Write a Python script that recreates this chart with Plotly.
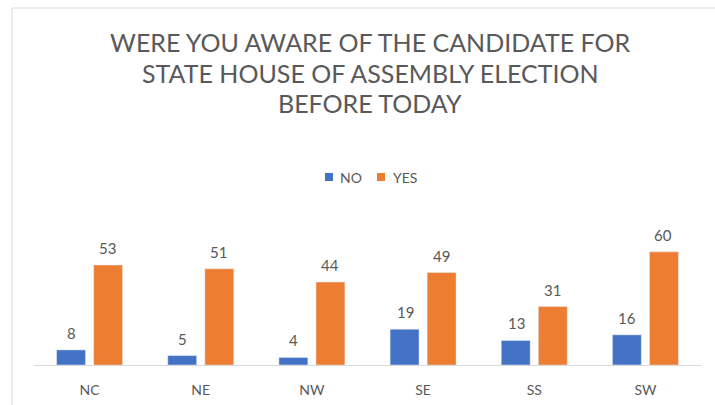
import plotly.graph_objects as go

# Survey responses by geopolitical zone
zones = ["NC", "NE", "NW", "SE", "SS", "SW"]
no_counts = [8, 5, 4, 19, 13, 16]
yes_counts = [53, 51, 44, 49, 31, 60]
series_names = ["NO", "YES"]

title_lines = [
    "WERE YOU AWARE OF THE CANDIDATE FOR",
    "STATE HOUSE OF ASSEMBLY ELECTION",
    "BEFORE TODAY",
]

BLUE = "#4472C4"
ORANGE = "#ED7D31"
GREY_TEXT = "#595959"
FONT = "Lato"

W, H = 715, 405
ML, MR, MT, MB = 34, 14, 233, 40
PW = W - ML - MR
PH = H - MT - MB


def px_x(x):
    return (x - ML) / PW


def px_y(y):
    return (H - MB - y) / PH


fig = go.Figure()
fig.add_trace(go.Bar(name=series_names[0], x=zones, y=no_counts, marker_color=BLUE))
fig.add_trace(go.Bar(name=series_names[1], x=zones, y=yes_counts, marker_color=ORANGE))

annotations = []
shapes = []
# value labels above each bar
for zone, n, y in zip(zones, no_counts, yes_counts):
    for val, shift in ((n, -18), (y, 18)):
        annotations.append(dict(
            x=zone, y=val, xref="x", yref="y", text=str(val), showarrow=False,
            xshift=shift, yshift=17, yanchor="middle",
            font=dict(family=FONT, size=15, color=GREY_TEXT),
        ))

# three-line title
for line, ypix in zip(title_lines, [42, 73, 103]):
    annotations.append(dict(
        x=px_x(370), y=px_y(ypix), xref="paper", yref="paper", text=line,
        showarrow=False, xanchor="center", yanchor="middle",
        font=dict(family=FONT, size=25, color=GREY_TEXT),
    ))

# compact legend: coloured key squares followed by series names
for name, color, sq_x, txt_x in zip(series_names, [BLUE, ORANGE], [325, 377], [338, 391]):
    shapes.append(dict(
        type="rect", xref="paper", yref="paper",
        x0=px_x(sq_x), x1=px_x(sq_x + 8), y0=px_y(181), y1=px_y(173),
        fillcolor=color, line=dict(width=0),
    ))
    annotations.append(dict(
        x=px_x(txt_x), y=px_y(177), xref="paper", yref="paper", text=name,
        showarrow=False, xanchor="left", yanchor="middle",
        font=dict(family=FONT, size=14, color=GREY_TEXT),
    ))

# chart frame
shapes.append(dict(
    type="rect", xref="paper", yref="paper",
    x0=px_x(12), x1=px_x(720), y0=px_y(8), y1=px_y(420),
    line=dict(color="#D9D9D9", width=1), fillcolor="rgba(0,0,0,0)", layer="below",
))

fig.update_layout(
    width=W, height=H,
    margin=dict(l=ML, r=MR, t=MT, b=MB, autoexpand=False),
    paper_bgcolor="white", plot_bgcolor="white",
    barmode="group", bargap=0.333, bargroupgap=0.22,
    showlegend=False,
    annotations=annotations,
    shapes=shapes,
    xaxis=dict(
        showline=True, linecolor="#D9D9D9", linewidth=1, ticks="",
        tickfont=dict(family=FONT, size=14, color=GREY_TEXT),
        ticklabelstandoff=12, automargin=False,
    ),
    yaxis=dict(range=[0, 70], visible=False, showgrid=False, automargin=False),
)

fig.write_html("out.html")
